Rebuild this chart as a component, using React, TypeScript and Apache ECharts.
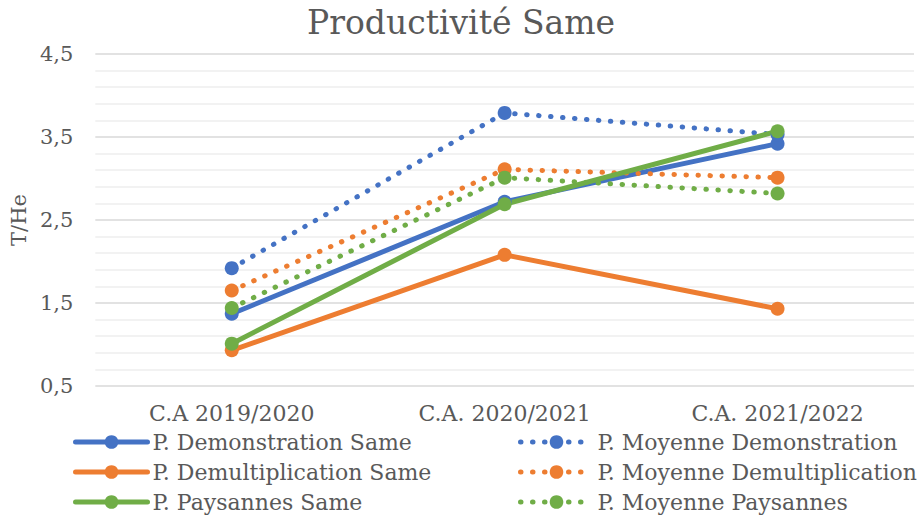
import React, { useEffect, useRef } from "react";
import * as echarts from "echarts";

const categories = ["C.A 2019/2020", "C.A. 2020/2021", "C.A. 2021/2022"];
const demoSame = [1.37, 2.72, 3.42];
const moyDemo = [1.92, 3.79, 3.53];
const demultSame = [0.93, 2.08, 1.43];
const moyDemult = [1.65, 3.11, 3.01];
const paysSame = [1.01, 2.69, 3.57];
const moyPays = [1.44, 3.01, 2.82];
const yTicks = { min: 0.5, max: 4.5, interval: 1 };

const BLUE = "#4472C4";
const ORANGE = "#ED7D31";
const GREEN = "#70AD47";
const FONT = "'DejaVu Serif', serif";
const GRAY = "#595959";

function solid(name: string, data: number[], color: string) {
  return {
    name,
    type: "line",
    data,
    symbol: "circle",
    symbolSize: 14,
    itemStyle: { color },
    lineStyle: { color, width: 5, cap: "round" },
    z: 2,
  };
}
function dotted(name: string, data: number[], color: string) {
  return {
    name,
    type: "line",
    data,
    symbol: "circle",
    symbolSize: 14,
    itemStyle: { color },
    lineStyle: { color, width: 5, type: [0.5, 11.5], cap: "round" },
    z: 2,
  };
}

export default function App() {
  const ref = useRef<HTMLDivElement>(null);
  useEffect(() => {
    if (!ref.current) return;
    const chart = echarts.init(ref.current, undefined, { renderer: "svg" });
    const legendText = { fontFamily: FONT, fontSize: 22, lineHeight: 20, color: GRAY };
    const legendBase = {
      orient: "vertical",
      top: 431,
      height: 90,
      itemWidth: 72,
      itemHeight: 17,
      itemGap: 8,
      padding: 0,
      textStyle: legendText,
      lineStyle: { width: 5, cap: "round" },
    };
    chart.setOption({
      animation: false,
      backgroundColor: "#ffffff",
      title: {
        text: "Productivité Same",
        left: "center",
        top: 1,
        textStyle: { fontFamily: FONT, fontSize: 33, fontWeight: "normal", color: GRAY },
      },
      grid: { left: 93, right: 8, top: 54, bottom: 132 },
      legend: [
        {
          ...legendBase,
          left: 73,
          data: ["P. Demonstration Same", "P. Demultiplication Same", "P. Paysannes Same"],
        },
        {
          ...legendBase,
          left: 518,
          data: ["P. Moyenne Demonstration", "P. Moyenne Demultiplication", "P. Moyenne Paysannes"],
        },
      ],
      xAxis: {
        type: "category",
        data: categories,
        boundaryGap: true,
        axisLine: { show: false },
        axisTick: { show: false },
        axisLabel: { fontFamily: FONT, fontSize: 22, color: GRAY, margin: 16 },
      },
      yAxis: {
        type: "value",
        min: yTicks.min,
        max: yTicks.max,
        interval: yTicks.interval,
        name: "T/He",
        nameLocation: "middle",
        nameRotate: 90,
        nameGap: 62,
        nameTextStyle: { fontFamily: FONT, fontSize: 21, color: GRAY },
        axisLine: { show: false },
        axisTick: { show: false },
        axisLabel: {
          fontFamily: FONT,
          fontSize: 21,
          color: GRAY,
          margin: 22,
          formatter: (v: number) => v.toFixed(1).replace(".", ","),
        },
        splitLine: { lineStyle: { color: "#d9d9d9", width: 1.5 } },
        minorTick: { show: false, splitNumber: 5 },
        minorSplitLine: { show: true, lineStyle: { color: "#eeeeee", width: 1.5 } },
      },
      series: [
        solid("P. Demonstration Same", demoSame, BLUE),
        dotted("P. Moyenne Demonstration", moyDemo, BLUE),
        solid("P. Demultiplication Same", demultSame, ORANGE),
        dotted("P. Moyenne Demultiplication", moyDemult, ORANGE),
        solid("P. Paysannes Same", paysSame, GREEN),
        dotted("P. Moyenne Paysannes", moyPays, GREEN),
      ],
    });
    return () => chart.dispose();
  }, []);
  return <div ref={ref} style={{ width: 922, height: 518, position: "absolute", left: 0, top: 0 }} />;
}
